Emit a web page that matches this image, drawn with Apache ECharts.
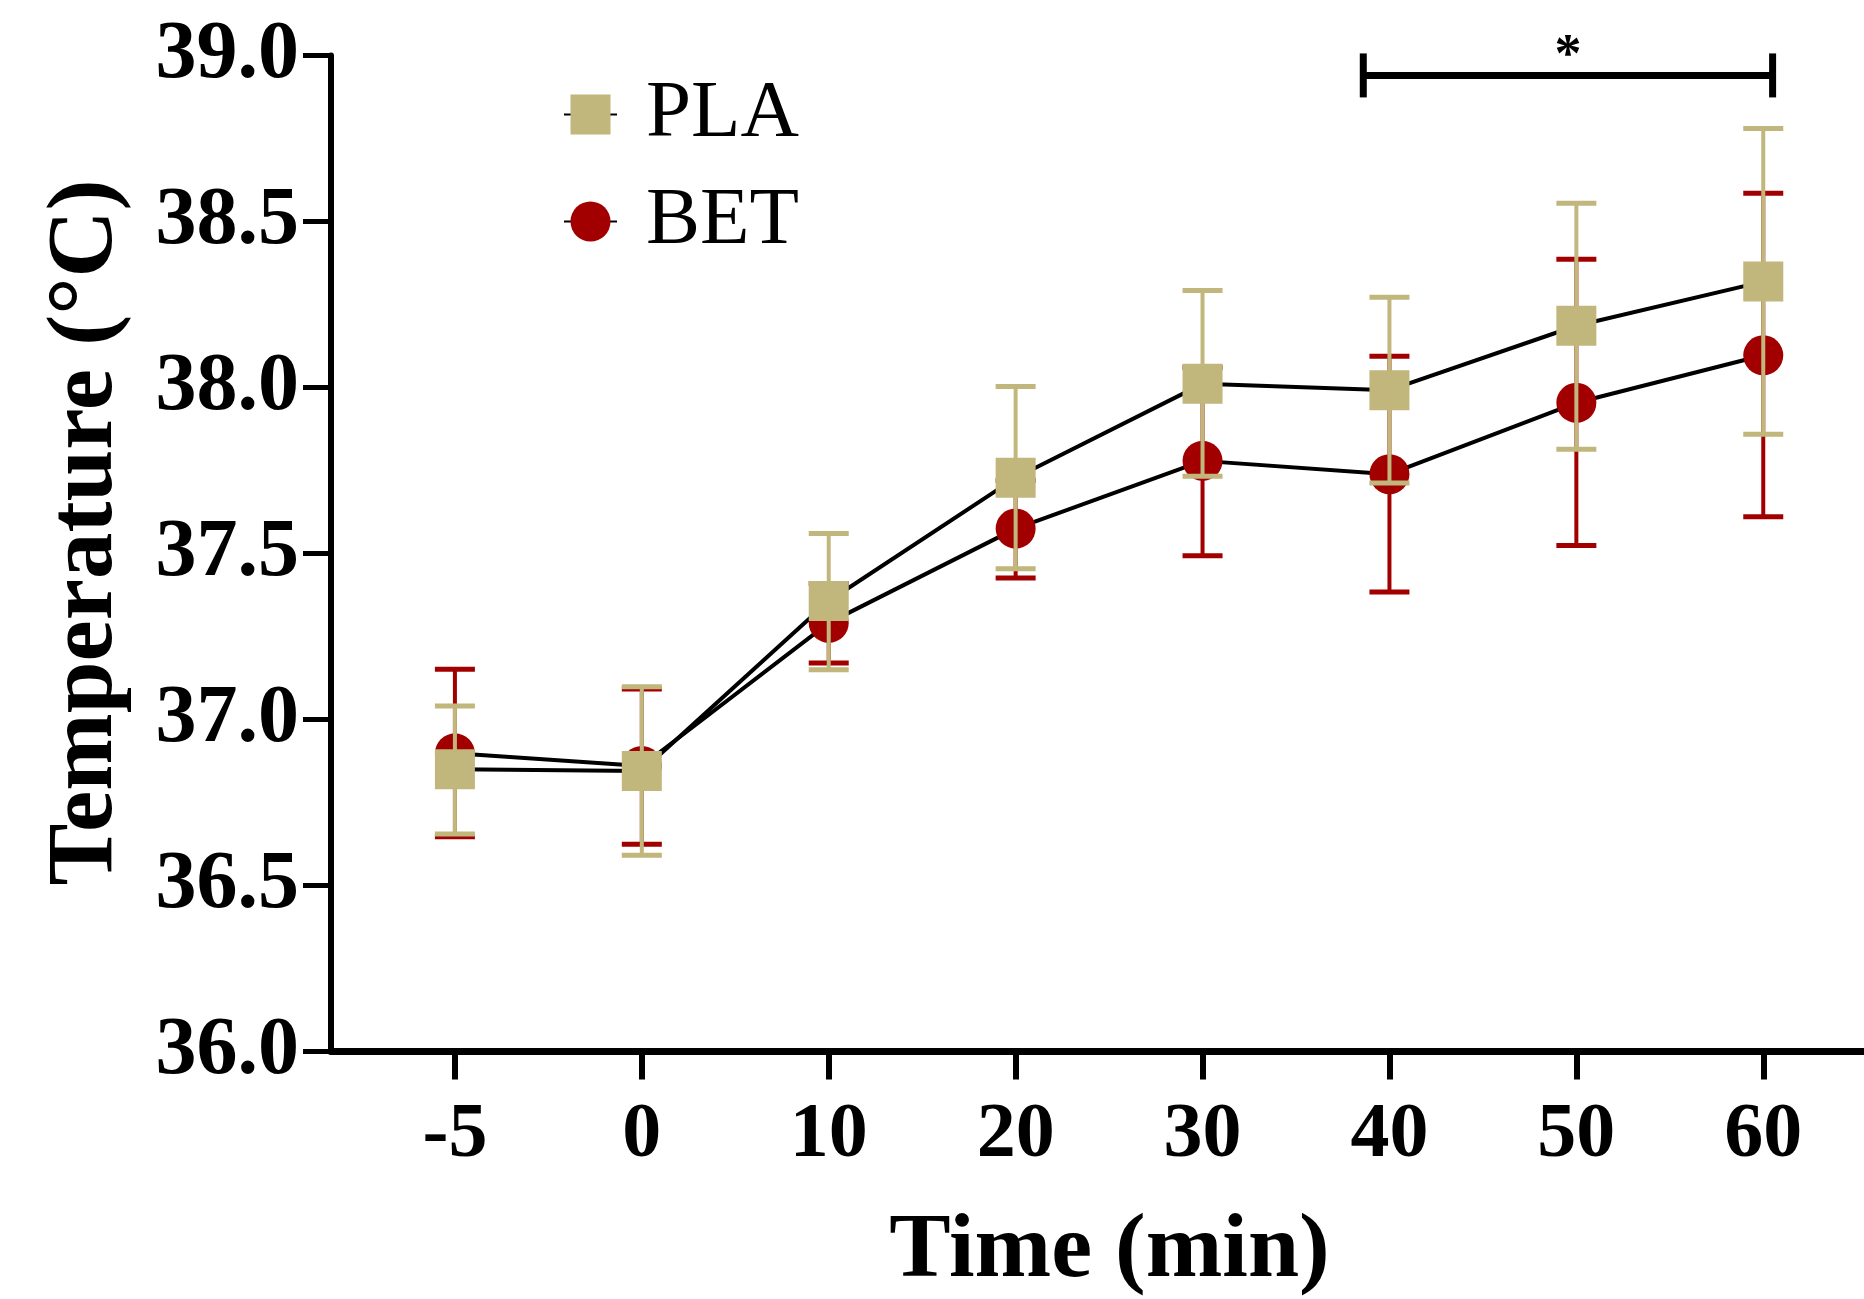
<!DOCTYPE html>
<html>
<head>
<meta charset="utf-8">
<script src="https://cdn.jsdelivr.net/npm/echarts@6/dist/echarts.min.js"></script>
<style>
  html, body { margin: 0; padding: 0; background: #fff; }
  #chart { width: 1864px; height: 1299px; }
</style>
</head>
<body>
<div id="chart"></div>
<script>
// time points (min)
let timeLabels = ['-5', '0', '10', '20', '30', '40', '50', '60']

// PLA mean and error bar ends (°C)
let plaMean = [36.85, 36.845, 37.357, 37.728, 38.011, 37.992, 38.186, 38.319]
let plaLow = [36.655, 36.591, 37.15, 37.454, 37.733, 37.712, 37.814, 37.859]
let plaHigh = [37.041, 37.099, 37.56, 38.003, 38.292, 38.272, 38.555, 38.78]

// BET mean and error bar ends (°C)
let betMean = [36.898, 36.86, 37.291, 37.575, 37.779, 37.739, 37.954, 38.097]
let betLow = [36.647, 36.624, 37.17, 37.426, 37.493, 37.384, 37.524, 37.611]
let betHigh = [37.151, 37.092, 37.41, 37.72, 38.06, 38.094, 38.386, 38.585]

// significance bracket: from / to (category index) and level (°C)
let sigSpan = [4.86, 7.05]
let sigLevel = 38.94
let sigText = '*'

let yTicks = [36, 39, 0.5] // min, max, step

const FONT = '"Liberation Serif", "Times New Roman", serif'
const TAN = '#C1B67C'
const RED = '#A20000'

let myChart = echarts.init(document.getElementById('chart'))

// build [index, value] pairs
function toPoints(arr) {
  return arr.map((v, i) => [i, v])
}
function toBars(lo, hi) {
  return lo.map((v, i) => [i, v, hi[i]])
}

// error bar drawing
function errorBar(color) {
  return function (params, api) {
    let x = api.value(0)
    let lo = api.coord([x, api.value(1)])
    let hi = api.coord([x, api.value(2)])
    let half = 20
    return {
      type: 'group',
      children: [
        { type: 'line', shape: { x1: lo[0], y1: lo[1], x2: hi[0], y2: hi[1] }, style: { stroke: color, lineWidth: 4 } },
        { type: 'line', shape: { x1: lo[0] - half, y1: lo[1], x2: lo[0] + half, y2: lo[1] }, style: { stroke: color, lineWidth: 5 } },
        { type: 'line', shape: { x1: hi[0] - half, y1: hi[1], x2: hi[0] + half, y2: hi[1] }, style: { stroke: color, lineWidth: 5 } }
      ]
    }
  }
}

// significance bracket
function bracket(params, api) {
  let a = api.coord([api.value(0), api.value(2)])
  let b = api.coord([api.value(1), api.value(2)])
  let st = { stroke: '#000', lineWidth: 7 }
  return {
    type: 'group',
    children: [
      { type: 'line', shape: { x1: a[0], y1: a[1], x2: b[0], y2: b[1] }, style: st },
      { type: 'line', shape: { x1: a[0], y1: a[1] - 22, x2: a[0], y2: a[1] + 22 }, style: st },
      { type: 'line', shape: { x1: b[0], y1: b[1] - 22, x2: b[0], y2: b[1] + 22 }, style: st },
      {
        type: 'text',
        x: (a[0] + b[0]) / 2,
        y: a[1] - 18,
        style: { text: sigText, font: 'bold 54px ' + FONT, fill: '#000', align: 'center', verticalAlign: 'middle' }
      }
    ]
  }
}

let option = {
  animation: false,
  backgroundColor: '#fff',
  grid: {
    left: 331,
    right: 0,
    top: 55.5,
    bottom: 247.5,
    containLabel: false,
    outerBoundsMode: 'none'
  },
  legend: {
    data: ['PLA', 'BET'],
    orient: 'vertical',
    left: 563,
    top: 74,
    padding: 0,
    itemWidth: 53,
    itemHeight: 50,
    itemGap: 26,
    textStyle: {
      fontFamily: FONT,
      fontSize: 81,
      color: '#000',
      padding: [0, 0, 0, 24]
    }
  },
  xAxis: {
    type: 'value',
    min: -0.663,
    max: 7.539,
    name: 'Time (min)',
    nameLocation: 'middle',
    nameGap: 155,
    nameTextStyle: {
      fontFamily: FONT,
      fontSize: 92,
      fontWeight: 'bold',
      color: '#000',
      padding: [0, 0, 0, 24]
    },
    axisLine: { show: true, onZero: false, lineStyle: { color: '#000', width: 7 } },
    axisTick: {
      show: true,
      customValues: [0, 1, 2, 3, 4, 5, 6, 7],
      length: 28,
      lineStyle: { color: '#000', width: 6 }
    },
    axisLabel: {
      customValues: [0, 1, 2, 3, 4, 5, 6, 7],
      formatter: v => timeLabels[Math.round(v)],
      margin: 45,
      fontFamily: FONT,
      fontSize: 78,
      fontWeight: 'bold',
      color: '#000'
    },
    splitLine: { show: false }
  },
  yAxis: {
    type: 'value',
    min: yTicks[0],
    max: yTicks[1],
    interval: yTicks[2],
    name: 'Temperature (°C)',
    nameLocation: 'middle',
    nameRotate: 90,
    nameGap: 198,
    nameTextStyle: {
      fontFamily: FONT,
      fontSize: 93,
      fontWeight: 'bold',
      color: '#000',
      padding: [0, 0, 0, 42]
    },
    axisLine: { show: true, onZero: false, lineStyle: { color: '#000', width: 6 } },
    axisTick: { show: true, length: 28, lineStyle: { color: '#000', width: 5 } },
    axisLabel: {
      formatter: v => v.toFixed(1),
      margin: 32,
      fontFamily: FONT,
      fontSize: 82,
      fontWeight: 'bold',
      color: '#000'
    },
    splitLine: { show: false }
  },
  series: [
    {
      name: 'BET',
      type: 'line',
      data: toPoints(betMean),
      symbol: 'circle',
      symbolSize: 40,
      itemStyle: { color: RED },
      lineStyle: { color: '#000', width: 4 },
      z: 2
    },
    {
      type: 'custom',
      renderItem: errorBar(RED),
      data: toBars(betLow, betHigh),
      encode: { x: 0, y: [1, 2] },
      z: 3
    },
    {
      name: 'PLA',
      type: 'line',
      data: toPoints(plaMean),
      symbol: 'rect',
      symbolSize: 40,
      itemStyle: { color: TAN },
      lineStyle: { color: '#000', width: 4 },
      z: 4
    },
    {
      type: 'custom',
      renderItem: errorBar(TAN),
      data: toBars(plaLow, plaHigh),
      encode: { x: 0, y: [1, 2] },
      z: 5
    },
    {
      type: 'custom',
      renderItem: bracket,
      data: [[sigSpan[0], sigSpan[1], sigLevel]],
      encode: { x: [0, 1], y: 2 },
      clip: false,
      z: 6
    }
  ]
}
myChart.setOption(option)
</script>
</body>
</html>
